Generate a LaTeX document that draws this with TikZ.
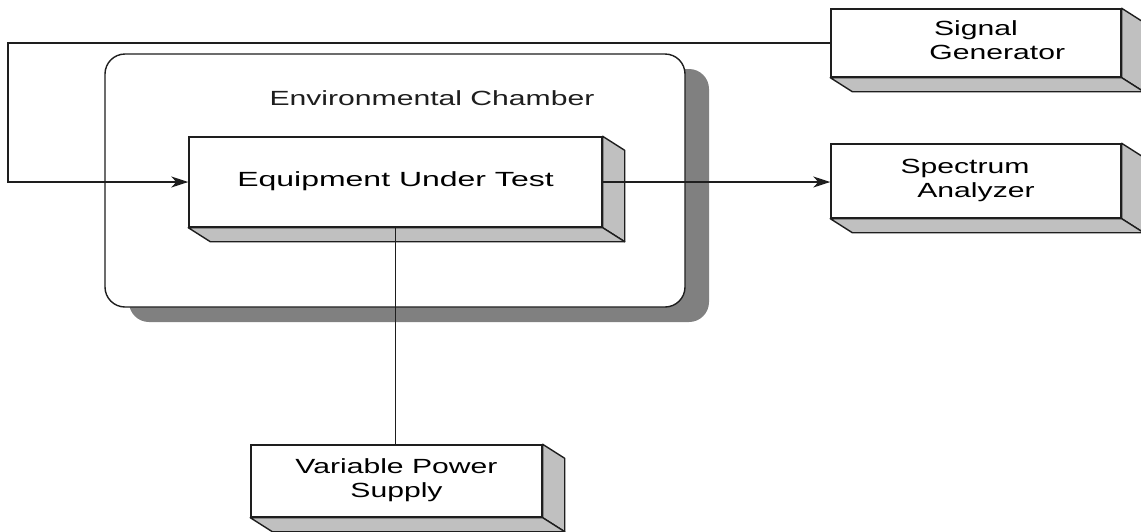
\documentclass[tikz,border=0pt]{standalone}
\usepackage{fontspec}
\setmainfont{Liberation Sans}
\usepackage{graphicx}
\usetikzlibrary{calc,shadows,arrows.meta}
\definecolor{facegray}{RGB}{192,192,192}
\definecolor{shadowgray}{RGB}{128,128,128}
\definecolor{ink}{RGB}{30,30,30}
\newcommand{\stretchtxt}[2][1.47]{\scalebox{#1}[1]{\fontsize{20.5}{24}\selectfont\begin{tabular}{@{}c@{}}#2\end{tabular}}}
\newcommand{\boxfaces}[1]{%
  \filldraw[face] (#1.north east) -- ++(22,14) -- ($(#1.south east)+(22,14)$) -- (#1.south east) -- cycle;
  \filldraw[face] (#1.south west) -- (#1.south east) -- ($(#1.south east)+(22,14)$) -- ($(#1.south west)+(22,14)$) -- cycle;}
\begin{document}
\begin{tikzpicture}[x=1pt,y=-1pt,
  box/.style={draw=ink, fill=white, line width=1.4pt, inner sep=0pt},
  face/.style={draw=ink, fill=facegray, line width=1.4pt, line join=round},
  chamber/.style={draw=ink, fill=white, line width=1.4pt, rounded corners=20pt,
     general shadow={fill=shadowgray, shadow xshift=24pt, shadow yshift=-15pt}},
  conn/.style={draw=ink, line width=1.3pt},
  arr/.style={conn, -{Stealth[length=17pt,width=11pt,inset=5pt]}},
  lbl/.style={inner sep=0pt, text=ink}]
\useasboundingbox (0,0) rectangle (1141,531);
\fill[white] (0,0) rectangle (1141,531);

% chamber
\node[chamber, minimum width=580pt, minimum height=253pt] (ch) at (395,180.5) {};
\node[lbl] (chlabel) at (432,101) {\stretchtxt{Environmental Chamber}};

% boxes
\node[box, minimum width=413pt, minimum height=90pt] (eut) at (395.5,182) {\stretchtxt[1.56]{Equipment Under Test}};
\boxfaces{eut}
\node[box, minimum width=290pt, minimum height=68pt] (sg) at (976,43) {\stretchtxt{Signal\\\hspace*{29pt}Generator}};
\boxfaces{sg}
\node[box, minimum width=290pt, minimum height=74pt] (sa) at (976,181) {\raisebox{6pt}{\stretchtxt{Spectrum\hspace*{15pt}\\Analyzer}}};
\boxfaces{sa}
\node[box, minimum width=291pt, minimum height=72pt] (vps) at (396.5,481) {\stretchtxt{Variable Power\\Supply}};
\boxfaces{vps}

% connectors
\coordinate (fbl) at (8,120);
\draw[arr] (sg.west) -| (fbl) |- (eut.west);
\draw[arr] (eut.east) -- (eut.east -| sa.west);
\draw[conn] (eut.south) -- (eut.south |- vps.north);
\end{tikzpicture}
\end{document}
